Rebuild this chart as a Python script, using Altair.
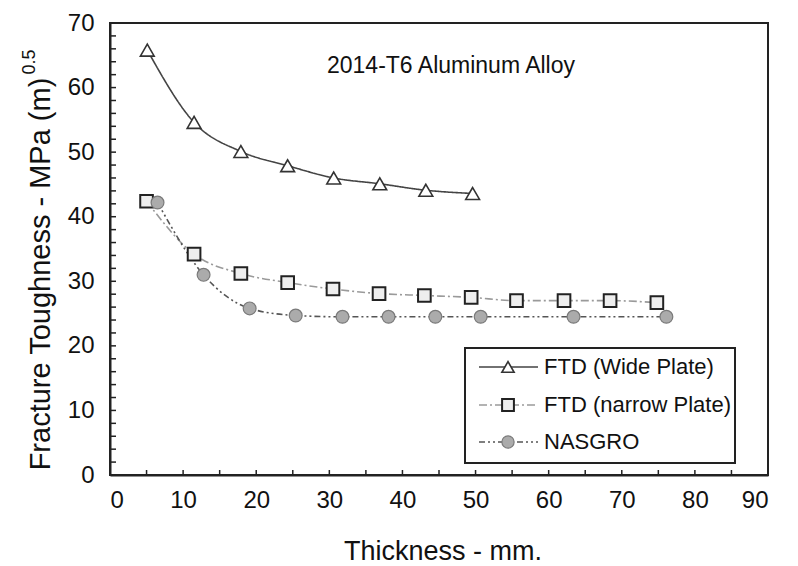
import altair as alt
import pandas as pd

# ---- data ----
wide_x = [5.1, 11.5, 17.9, 24.3, 30.6, 36.9, 43.2, 49.6]
wide_y = [65.8, 54.6, 50.1, 47.9, 46.0, 45.1, 44.1, 43.6]
narrow_x = [5.0, 11.5, 17.9, 24.3, 30.5, 36.8, 43.0, 49.4, 55.6, 62.1, 68.4, 74.8]
narrow_y = [42.4, 34.2, 31.2, 29.8, 28.8, 28.1, 27.8, 27.5, 27.0, 27.0, 27.0, 26.7]
nasgro_x = [6.5, 12.8, 19.1, 25.4, 31.8, 38.1, 44.5, 50.7, 63.4, 76.1]
nasgro_y = [42.2, 31.0, 25.8, 24.7, 24.5, 24.5, 24.5, 24.5, 24.5, 24.5]
series_names = ["FTD (Wide Plate)", "FTD (narrow Plate)", "NASGRO"]
x_tick_values = list(range(0, 91, 5))
y_tick_values = list(range(0, 71, 2))
x_label_values = list(range(0, 91, 10))
y_label_values = list(range(0, 71, 10))

W, H = 658, 452
FONT = "Liberation Sans"
TXT = "#111111"

xs = alt.Scale(domain=[0, 90], nice=False, zero=False)
ys = alt.Scale(domain=[0, 70], nice=False, zero=False)

wide = pd.DataFrame({"x": wide_x, "y": wide_y})
narrow = pd.DataFrame({"x": narrow_x, "y": narrow_y})
nasgro = pd.DataFrame({"x": nasgro_x, "y": nasgro_y})

X = alt.X("x:Q", scale=xs, axis=alt.Axis(values=x_label_values, title=None, grid=False,
                                         ticks=False, tickSize=0, labelPadding=13,
                                         labelFontSize=24, labelFont=FONT, labelColor=TXT,
                                         domainColor="#222222", domainWidth=2))
Y = alt.Y("y:Q", scale=ys, axis=alt.Axis(values=y_label_values, title=None, grid=False,
                                         ticks=False, tickSize=0, labelPadding=16,
                                         labelFontSize=24, labelFont=FONT, labelColor=TXT,
                                         domainColor="#222222", domainWidth=2))

styles = {
    "wide": dict(color="#444444", dash=[1, 0], width=1.6),
    "narrow": dict(color="#9a9a9a", dash=[8, 3, 2, 3], width=1.6),
    "nasgro": dict(color="#555555", dash=[6, 3, 2, 3, 2, 3], width=1.6),
}

def line(df, st):
    return alt.Chart(df).mark_line(interpolate="monotone", color=st["color"],
                                   strokeDash=st["dash"], strokeWidth=st["width"]).encode(x=X, y=Y)

wide_pts = alt.Chart(wide).mark_point(shape="triangle-up", size=190, filled=True, fill="white",
                                      stroke="#333333", strokeWidth=1.6, opacity=1).encode(x=X, y=Y)
narrow_pts = alt.Chart(narrow).mark_point(shape="square", size=160, filled=True, fill="#eeeeee",
                                          stroke="#222222", strokeWidth=2, opacity=1).encode(x=X, y=Y)
nasgro_pts = alt.Chart(nasgro).mark_point(shape="circle", size=165, filled=True, fill="#ababab",
                                          stroke="#7a7a7a", strokeWidth=1.2, opacity=1).encode(x=X, y=Y)

# inward ticks
yt = alt.Chart(pd.DataFrame({"v": y_tick_values})).mark_rule(color="#222222", strokeWidth=1.5).encode(
    y=alt.Y("v:Q", scale=ys), x=alt.value(0), x2=alt.value(6))
xt = alt.Chart(pd.DataFrame({"v": x_tick_values})).mark_rule(color="#222222", strokeWidth=1.5).encode(
    x=alt.X("v:Q", scale=xs), y=alt.value(H), y2=alt.value(H - 5))

# annotation and titles
def label(txt, x, y, size, angle=0, align="center", baseline="middle"):
    return alt.Chart(pd.DataFrame({"t": [txt]})).mark_text(
        font=FONT, fontSize=size, color=TXT, angle=angle, align=align, baseline=baseline
    ).encode(text="t:N", x=alt.value(x), y=alt.value(y))

annot = label("2014-T6 Aluminum Alloy", 341, 43, 23)
xtitle = label("Thickness - mm.", 333, 537, 27, baseline="alphabetic")
ytitle = label("Fracture Toughness - MPa (m)", -60, 251, 29, angle=270, baseline="alphabetic")
ysup = label("0.5", -75, 39, 18, angle=270, baseline="alphabetic")

# legend
box = alt.Chart(pd.DataFrame({"a": [0]})).mark_rect(fill="white", stroke="#222222", strokeWidth=2).encode(
    x=alt.value(355), x2=alt.value(625), y=alt.value(325), y2=alt.value(440))
rows = [344, 382, 419]
keys = ["wide", "narrow", "nasgro"]
marks = [
    dict(shape="triangle-up", size=150, fill="white", stroke="#333333", strokeWidth=1.6),
    dict(shape="square", size=140, fill="#eeeeee", stroke="#222222", strokeWidth=2),
    dict(shape="circle", size=150, fill="#ababab", stroke="#7a7a7a", strokeWidth=1.2),
]
leg_layers = [box]
for name, ry, k, m in zip(series_names, rows, keys, marks):
    st = styles[k]
    d = pd.DataFrame({"t": [name]})
    leg_layers.append(alt.Chart(d).mark_rule(color=st["color"], strokeDash=st["dash"],
                                             strokeWidth=st["width"]).encode(
        x=alt.value(369), x2=alt.value(428), y=alt.value(ry)))
    leg_layers.append(alt.Chart(d).mark_point(filled=True, opacity=1, **m).encode(
        x=alt.value(398), y=alt.value(ry)))
    leg_layers.append(alt.Chart(d).mark_text(font=FONT, fontSize=22, color=TXT, align="left",
                                             baseline="middle").encode(
        text="t:N", x=alt.value(434), y=alt.value(ry)))

chart = alt.layer(
    line(wide, styles["wide"]), line(narrow, styles["narrow"]), line(nasgro, styles["nasgro"]),
    wide_pts, narrow_pts, nasgro_pts, yt, xt, annot, xtitle, ytitle, ysup, *leg_layers
).properties(
    width=W, height=H,
    autosize=alt.AutoSizeParams(type="none"),
    padding={"left": 102, "top": 15, "right": 20, "bottom": 90},
).configure_view(stroke="#222222", strokeWidth=2)

chart.save("out.html", embed_options={"renderer": "svg", "actions": False})
